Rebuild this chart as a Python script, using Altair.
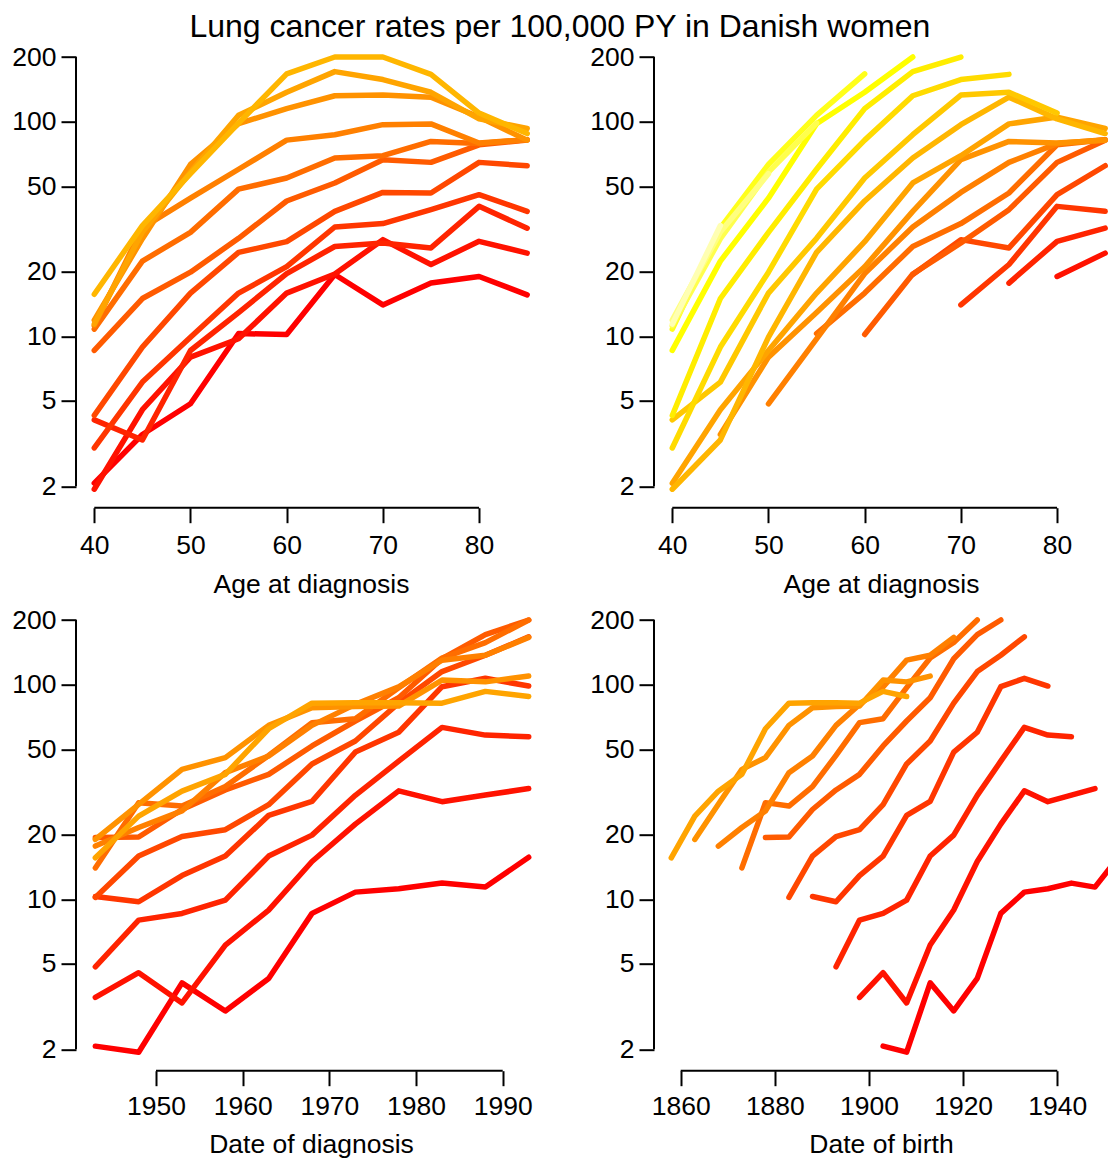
import altair as alt
import pandas as pd

# ---- data (rates per 100,000 PY) ----
ages = [40, 45, 50, 55, 60, 65, 70, 75, 80, 85]
periods = [1943, 1948, 1953, 1958, 1963, 1968, 1973, 1978, 1983, 1988, 1993]

r40 = [2.07, 1.94, 4.08, 3.02, 4.28, 8.6, 10.8, 11.2, 11.9, 11.4, 15.7]
r45 = [3.49, 4.55, 3.29, 6.12, 8.91, 15.0, 22.4, 32.0, 28.5, 30.6, 32.8]
r50 = [4.85, 8.0, 8.59, 9.91, 15.9, 19.9, 30.5, 44.0, 63.2, 58.2, 57.2]
r55 = [10.3, 9.74, 12.9, 15.9, 24.6, 28.6, 48.5, 60.0, 97.8, 107, 98.5]
r60 = [10.2, 15.9, 19.6, 21.1, 27.6, 42.7, 54.6, 82.0, 115, 137, 167]
r65 = [19.4, 19.5, 26.2, 32.3, 38.2, 51.8, 67.7, 86.9, 132, 171, 200]
r70 = [14.0, 28.2, 27.2, 33.5, 46.8, 66.5, 69.4, 96.8, 133, 157, 200]
r75 = [17.7, 21.6, 25.8, 38.9, 46.5, 64.6, 80.9, 97.6, 130, 137, 166]
r80 = [19.0, 27.7, 40.3, 45.7, 64.6, 78.0, 79.0, 79.5, 105, 103, 109.6]
r85 = [15.6, 24.4, 31.9, 38.2, 62.3, 82.0, 82.4, 82.4, 82.0, 93.0, 88.0]
rate_rows = [r40, r45, r50, r55, r60, r65, r70, r75, r80, r85]

y_ticks = [2, 5, 10, 20, 50, 100, 200]
age_ticks = [40, 50, 60, 70, 80]
per_ticks = [1950, 1960, 1970, 1980, 1990]
coh_ticks = [1860, 1880, 1900, 1920, 1940]

# R heat.colors(20)
heat20 = ["#FF0000", "#FF1200", "#FF2400", "#FF3600", "#FF4800", "#FF5B00",
          "#FF6D00", "#FF8000", "#FF9200", "#FFA400", "#FFB600", "#FFC800",
          "#FFDB00", "#FFED00", "#FFFF00", "#FFFF1A", "#FFFF4D", "#FFFF80",
          "#FFFFB3", "#FFFFE6"]

rows = []
for a, rr in zip(ages, rate_rows):
    for p, v in zip(periods, rr):
        rows.append({"age": a, "period": p, "cohort": p - a, "rate": v})
df = pd.DataFrame(rows)
cohorts = sorted(df["cohort"].unique().tolist())
counts = df.groupby("cohort")["rate"].count()
df_coh = df[df["cohort"].map(counts) >= 2].sort_values(["cohort", "age"])
df_per = df.sort_values(["period", "age"])
df_age = df.sort_values(["age", "period"])

FONT = "Liberation Sans"
FS = 26.5
WL, WR, H = 470, 454, 468
YDOM = [1.591, 240.8]
one = pd.DataFrame({"k": [0]})


def y_axis():
    return alt.Axis(values=y_ticks, format="d", title=None, grid=False, domain=False,
                    tickSize=15, tickWidth=2, tickColor="black",
                    labelFontSize=FS, labelFont=FONT, labelColor="black",
                    labelPadding=5, labelOverlap=False, labelFlush=False)


def x_axis(vals, title, lpad, tpad):
    return alt.Axis(values=vals, format="d", title=title, grid=False, domain=False,
                    tickSize=15, tickWidth=2, tickColor="black",
                    labelFontSize=FS, labelFont=FONT, labelColor="black",
                    labelPadding=lpad, labelOverlap=False, labelFlush=False,
                    titleFontSize=FS, titleFont=FONT, titleFontWeight="normal",
                    titleColor="black", titlePadding=tpad)


def panel(data, xfield, xdom, xvals, xtitle, cfield, cdom, crange, width, lpad, tpad):
    xs = alt.Scale(domain=xdom, nice=False, zero=False)
    ys = alt.Scale(type="log", domain=YDOM, nice=False)
    xa = x_axis(xvals, xtitle, lpad, tpad)
    lines = alt.Chart(data).mark_line(strokeWidth=5.5, strokeCap="round",
                                      strokeJoin="round", clip=True).encode(
        x=alt.X(f"{xfield}:Q", scale=xs, axis=xa),
        y=alt.Y("rate:Q", scale=ys, axis=y_axis()),
        color=alt.Color(f"{cfield}:N", scale=alt.Scale(domain=cdom, range=crange), legend=None),
    )
    yline = alt.Chart(one).mark_rule(color="black", strokeWidth=2).encode(
        x=alt.value(0),
        y=alt.YDatum(y_ticks[0], type="quantitative", scale=ys, axis=y_axis()),
        y2=alt.Y2Datum(y_ticks[-1]),
    )
    xline = alt.Chart(one).mark_rule(color="black", strokeWidth=2).encode(
        y=alt.value(H),
        x=alt.XDatum(xvals[0], type="quantitative", scale=xs, axis=xa),
        x2=alt.X2Datum(xvals[-1]),
    )
    return alt.layer(lines, yline, xline).properties(width=width, height=H)


AGE_DOM = [38.1, 38.1 + WL / 9.62]
tl = panel(df_per, "age", AGE_DOM, age_ticks, "Age at diagnosis",
           "period", periods, heat20[:len(periods)], WL, 10, 12)
tr = panel(df_coh, "age", [38.1, 38.1 + WR / 9.62], age_ticks, "Age at diagnosis",
           "cohort", cohorts, heat20[:len(cohorts)], WR, 10, 12)
bl = panel(df_age, "period", [1940.77, 1940.77 + WL / 8.6675], per_ticks, "Date of diagnosis",
           "age", ages, heat20[:len(ages)], WL, 8, 11)
br = panel(df_age.sort_values(["age", "cohort"]), "cohort", [1854.33, 1854.33 + WR / 4.7075],
           coh_ticks, "Date of birth", "age", ages, heat20[:len(ages)], WR, 8, 11)

chart = alt.concat(
    tl, tr, bl, br, columns=2,
    spacing={"row": 95, "column": 108}, bounds="flush",
    title=alt.TitleParams("Lung cancer rates per 100,000 PY in Danish women",
                          fontSize=32, font=FONT, fontWeight="normal", color="black",
                          anchor="middle", offset=-29.2, baseline="alphabetic", dx=0),
    padding={"left": 3, "top": 2.7, "right": 0, "bottom": 0},
).resolve_scale(x="independent", y="independent", color="independent"
).configure(font=FONT).configure_view(stroke=None)

chart.save("out.html", embed_options={"renderer": "svg", "actions": False})
